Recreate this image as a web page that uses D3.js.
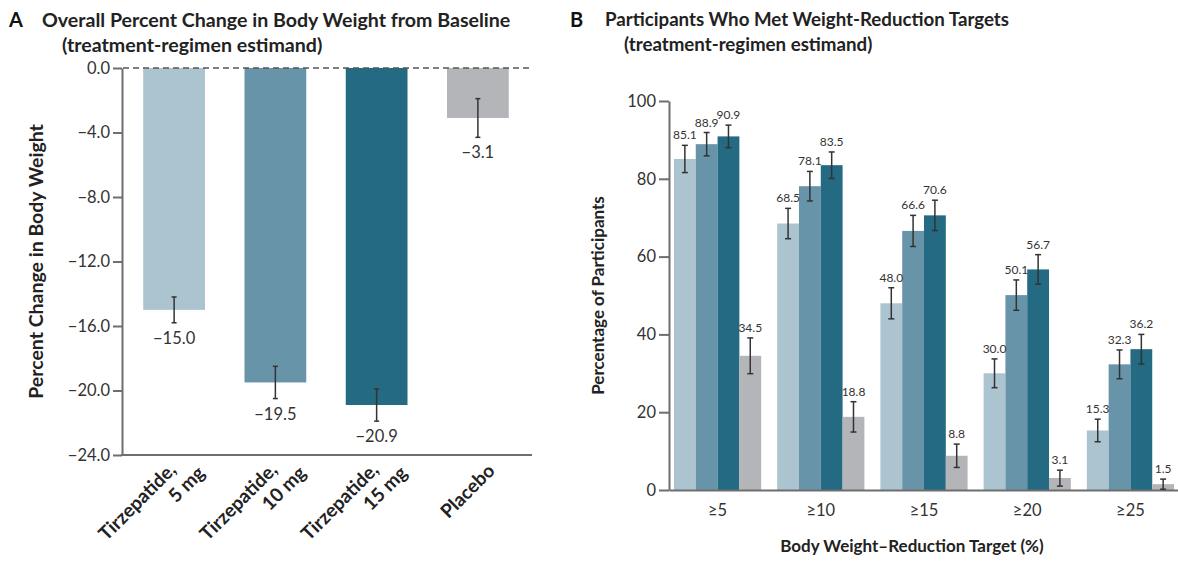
<!DOCTYPE html>
<html>
<head>
<meta charset="utf-8">
<script src="https://cdn.jsdelivr.net/npm/d3@7"></script>
<style>
  body { margin: 0; background: #fff; }
  svg { font-family: Lato, "Open Sans", sans-serif; }
</style>
</head>
<body>
<script>
// panel A data
const groupsA = ["Tirzepatide, 5 mg", "Tirzepatide, 10 mg", "Tirzepatide, 15 mg", "Placebo"];
const labelLinesA = [["Tirzepatide,", "5 mg"], ["Tirzepatide,", "10 mg"], ["Tirzepatide,", "15 mg"], ["Placebo"]];
const changeA = [-15.0, -19.5, -20.9, -3.1];
const changeLowA = [-15.8, -20.5, -21.9, -4.3];
const changeHighA = [-14.2, -18.5, -19.9, -1.9];
const ticksA = [0, -4, -8, -12, -16, -20, -24];

// panel B data
const targets = ["≥5", "≥10", "≥15", "≥20", "≥25"];
const series = ["Tirzepatide, 5 mg", "Tirzepatide, 10 mg", "Tirzepatide, 15 mg", "Placebo"];
const pct5mg = [85.1, 68.5, 48.0, 30.0, 15.3];
const pct10mg = [88.9, 78.1, 66.6, 50.1, 32.3];
const pct15mg = [90.9, 83.5, 70.6, 56.7, 36.2];
const pctPlacebo = [34.5, 18.8, 8.8, 3.1, 1.5];
const low5mg = [81.6, 64.6, 44.0, 26.3, 12.4];
const high5mg = [88.6, 72.4, 52.0, 33.7, 18.2];
const low10mg = [85.9, 74.3, 62.6, 46.2, 28.6];
const high10mg = [91.9, 81.9, 70.6, 54.0, 36.0];
const low15mg = [88.0, 80.1, 66.7, 52.9, 32.4];
const high15mg = [93.8, 86.9, 74.5, 60.5, 40.0];
const lowPlacebo = [29.9, 14.9, 5.8, 1.0, 0.2];
const highPlacebo = [39.1, 22.7, 11.8, 5.1, 2.8];
const ticksB = [0, 20, 40, 60, 80, 100];

const colors = ["#abc4d0", "#6894aa", "#236a82", "#b4b5b9"];
const axisColor = "#6e6e6e";
const textColor = "#333";

const svg = d3.select("body").append("svg")
    .attr("width", 1178)
    .attr("height", 561);

// ---------- Panel A ----------
const yA = d3.scaleLinear().domain([-24, 0]).range([455, 68]);
const xA = d3.scaleBand().domain(groupsA).range([124, 528]).paddingInner(0.39).paddingOuter(0.19);
const fmtA = d3.format(".1f");

const gA = svg.append("g");

gA.append("text").attr("x", 9).attr("y", 27)
    .style("font-size", "20px").style("font-weight", 700).attr("fill", "#111")
    .text("A");
gA.append("text").attr("x", 42).attr("y", 27)
    .style("font-size", "19.6px").style("font-weight", 700).attr("fill", "#222")
    .text("Overall Percent Change in Body Weight from Baseline");
gA.append("text").attr("x", 62).attr("y", 52)
    .style("font-size", "19.6px").style("font-weight", 700).attr("fill", "#222")
    .text("(treatment-regimen estimand)");

const dataA = groupsA.map((g, i) => ({g: g, v: changeA[i], lo: changeLowA[i], hi: changeHighA[i], lines: labelLinesA[i], c: colors[i]}));

gA.selectAll("rect.bar").data(dataA).join("rect")
    .attr("class", "bar")
    .attr("x", d => xA(d.g))
    .attr("y", yA(0))
    .attr("width", xA.bandwidth())
    .attr("height", d => yA(d.v) - yA(0))
    .attr("fill", d => d.c);

const yAxisA = d3.axisLeft(yA).tickValues(ticksA).tickFormat(fmtA).tickSize(9).tickSizeOuter(0).tickPadding(3);
const axA = gA.append("g").attr("transform", "translate(122,0)").call(yAxisA);
axA.selectAll("path, line").attr("stroke", axisColor).attr("stroke-width", 2);
axA.selectAll("text").style("font-size", "16.5px").attr("fill", textColor).style("font-family", "Lato, sans-serif");

// baseline (x axis) at -24
gA.append("line")
    .attr("x1", 121).attr("x2", 532)
    .attr("y1", yA(-24)).attr("y2", yA(-24))
    .attr("stroke", axisColor).attr("stroke-width", 2);

// dashed zero line
gA.append("line")
    .attr("x1", 123).attr("x2", 532)
    .attr("y1", yA(0)).attr("y2", yA(0))
    .attr("stroke", "#555").attr("stroke-width", 1.6)
    .attr("stroke-dasharray", "6,4");

// error bars
const errA = gA.selectAll("g.err").data(dataA).join("g").attr("class", "err")
    .attr("transform", d => `translate(${xA(d.g) + xA.bandwidth() / 2},0)`);
errA.append("line").attr("y1", d => yA(d.hi)).attr("y2", d => yA(d.lo))
    .attr("stroke", "#333").attr("stroke-width", 1.5);
errA.append("line").attr("x1", -2.5).attr("x2", 2.5).attr("y1", d => yA(d.hi)).attr("y2", d => yA(d.hi))
    .attr("stroke", "#333").attr("stroke-width", 1.5);
errA.append("line").attr("x1", -2.5).attr("x2", 2.5).attr("y1", d => yA(d.lo)).attr("y2", d => yA(d.lo))
    .attr("stroke", "#333").attr("stroke-width", 1.5);
errA.append("text")
    .attr("y", d => yA(d.lo) + 21)
    .attr("text-anchor", "middle")
    .style("font-size", "16.5px").attr("fill", textColor)
    .text(d => fmtA(d.v));

// rotated category labels
const labA = gA.selectAll("text.cat").data(dataA).join("text")
    .attr("class", "cat")
    .attr("transform", d => {
      const cx = xA(d.g) + xA.bandwidth() / 2;
      return d.lines.length > 1 ? `translate(${cx + 3},471) rotate(-45)` : `translate(${cx + 18},472) rotate(-45)`;
    })
    .attr("text-anchor", "end")
    .style("font-size", "19px").style("font-weight", 700).attr("fill", "#222");
labA.selectAll("tspan").data(d => d.lines).join("tspan")
    .attr("x", (l, i) => i * 18)
    .attr("y", (l, i) => i * 22.5)
    .text(l => l);

gA.append("text")
    .attr("transform", `translate(43,${(yA(0) + yA(-24)) / 2}) rotate(-90)`)
    .attr("text-anchor", "middle")
    .style("font-size", "19.5px").style("font-weight", 700).attr("fill", "#222")
    .text("Percent Change in Body Weight");

// ---------- Panel B ----------
const yB = d3.scaleLinear().domain([0, 100]).range([490, 101]);
const xB = d3.scaleBand().domain(targets).range([669, 1179]).paddingInner(0.155).paddingOuter(0.048);
const xSub = d3.scaleBand().domain(series).range([0, xB.bandwidth()]);

const gB = svg.append("g");

gB.append("text").attr("x", 570).attr("y", 27)
    .style("font-size", "20px").style("font-weight", 700).attr("fill", "#111")
    .text("B");
gB.append("text").attr("x", 605).attr("y", 26)
    .style("font-size", "18.7px").style("font-weight", 700).attr("fill", "#222")
    .text("Participants Who Met Weight-Reduction Targets");
gB.append("text").attr("x", 624).attr("y", 51)
    .style("font-size", "18.7px").style("font-weight", 700).attr("fill", "#222")
    .text("(treatment-regimen estimand)");

const valuesB = [pct5mg, pct10mg, pct15mg, pctPlacebo];
const lowsB = [low5mg, low10mg, low15mg, lowPlacebo];
const highsB = [high5mg, high10mg, high15mg, highPlacebo];

const dataB = [];
targets.forEach((t, i) => {
  series.forEach((s, j) => {
    dataB.push({t: t, s: s, v: valuesB[j][i], lo: lowsB[j][i], hi: highsB[j][i], c: colors[j]});
  });
});

gB.selectAll("rect.bar").data(dataB).join("rect")
    .attr("class", "bar")
    .attr("x", d => xB(d.t) + xSub(d.s))
    .attr("y", d => yB(d.v))
    .attr("width", xSub.bandwidth())
    .attr("height", d => yB(0) - yB(d.v))
    .attr("fill", d => d.c);

const yAxisB = d3.axisLeft(yB).tickValues(ticksB).tickFormat(d3.format("d")).tickSize(10).tickSizeOuter(0).tickPadding(3);
const axB = gB.append("g").attr("transform", "translate(669,0)").call(yAxisB);
axB.selectAll("path, line").attr("stroke", axisColor).attr("stroke-width", 2);
axB.selectAll("text").style("font-size", "16.5px").attr("fill", textColor).style("font-family", "Lato, sans-serif");

const xAxisB = d3.axisBottom(xB).tickSize(0).tickSizeOuter(0).tickPadding(14);
const axBx = gB.append("g").attr("transform", `translate(0,${yB(0)})`).call(xAxisB);
axBx.select("path").attr("stroke", axisColor).attr("stroke-width", 2);
axBx.selectAll("text").style("font-size", "16.5px").attr("fill", textColor).style("font-family", "Lato, sans-serif");

const errB = gB.selectAll("g.err").data(dataB).join("g").attr("class", "err")
    .attr("transform", d => `translate(${xB(d.t) + xSub(d.s) + xSub.bandwidth() / 2},0)`);
errB.append("line").attr("y1", d => yB(d.hi)).attr("y2", d => yB(d.lo))
    .attr("stroke", "#333").attr("stroke-width", 1.5);
errB.append("line").attr("x1", -3).attr("x2", 3).attr("y1", d => yB(d.hi)).attr("y2", d => yB(d.hi))
    .attr("stroke", "#333").attr("stroke-width", 1.5);
errB.append("line").attr("x1", -3).attr("x2", 3).attr("y1", d => yB(d.lo)).attr("y2", d => yB(d.lo))
    .attr("stroke", "#333").attr("stroke-width", 1.5);
errB.append("text")
    .attr("y", d => yB(d.hi) - 6)
    .attr("text-anchor", "middle")
    .style("font-size", "12px").attr("fill", textColor)
    .text(d => d3.format(".1f")(d.v));

gB.append("text")
    .attr("transform", `translate(604,${(yB(0) + yB(100)) / 2}) rotate(-90)`)
    .attr("text-anchor", "middle")
    .style("font-size", "17px").style("font-weight", 700).attr("fill", "#222")
    .text("Percentage of Participants");

gB.append("text")
    .attr("x", 912).attr("y", 552)
    .attr("text-anchor", "middle")
    .style("font-size", "17px").style("font-weight", 700).attr("fill", "#222")
    .text("Body Weight–Reduction Target (%)");
</script>
</body>
</html>
